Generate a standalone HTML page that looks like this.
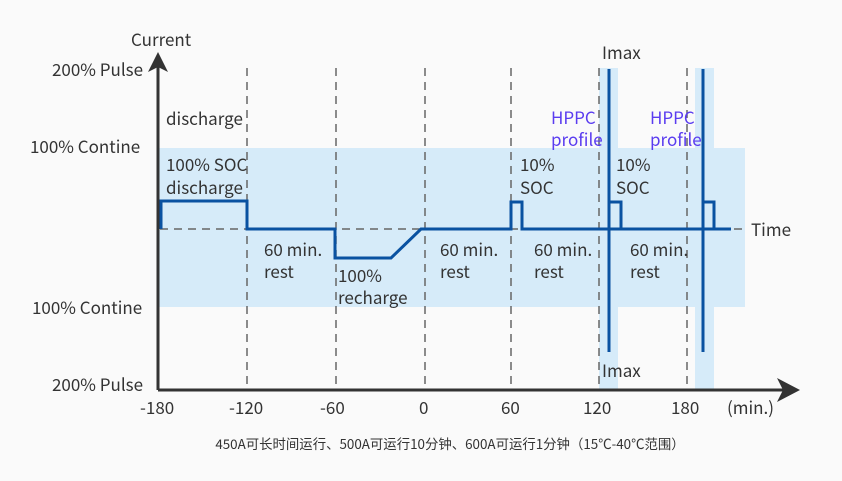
<!DOCTYPE html>
<html><head><meta charset="utf-8"><style>
html,body{margin:0;padding:0;background:#fafafa;}
svg{display:block;font-family:"Noto Sans CJK SC","Liberation Sans",sans-serif;}
</style></head><body>
<svg width="842" height="481" viewBox="0 0 842 481">
<rect width="842" height="481" fill="#fafafa"/>
<rect x="159" y="148" width="586" height="159" fill="#d6ebf9"/>
<rect x="599" y="68" width="19" height="322" fill="#d6ebf9"/>
<rect x="695" y="68" width="19" height="322" fill="#d6ebf9"/>
<g stroke="#666" stroke-width="1.5" stroke-dasharray="8,6">
<line x1="247" y1="68" x2="247" y2="390"/>
<line x1="336" y1="68" x2="336" y2="390"/>
<line x1="425" y1="68" x2="425" y2="390"/>
<line x1="511" y1="68" x2="511" y2="390"/>
<line x1="599" y1="68" x2="599" y2="390"/>
<line x1="687" y1="68" x2="687" y2="390"/>
<line x1="160" y1="229" x2="748" y2="229"/>
</g>
<g stroke="#333" stroke-width="3" fill="#333">
<line x1="158" y1="390" x2="158" y2="62"/>
<line x1="158" y1="390" x2="785" y2="390"/>
</g>
<polygon points="158,52 148,72 158,67 168,72" fill="#333"/>
<polygon points="800,390 777,378 783,390 777,402" fill="#333"/>
<g stroke="#0a52a1" stroke-width="3" fill="none">
<polyline points="161,229 161,201 247,201 247,229 335,229 335,258 391,258 421,229 511,229 511,202 522,202 522,229 731,229"/>
<polyline points="609,229 609,202 621,202 621,229"/>
<polyline points="703,229 703,202 714,202 714,229"/>
<line x1="609" y1="69" x2="609" y2="352"/>
<line x1="703" y1="69" x2="703" y2="352"/>
</g>
<g font-size="17" fill="#333">
<text x="131" y="46">Current</text>
<text x="52" y="76">200% Pulse</text>
<text x="30" y="153">100% Contine</text>
<text x="32" y="314">100% Contine</text>
<text x="52" y="391">200% Pulse</text>
<text x="166" y="125">discharge</text>
<text x="166" y="171">100% SOC</text>
<text x="166" y="194">discharge</text>
<text x="264" y="256">60 min.</text>
<text x="264" y="278">rest</text>
<text x="338" y="282">100%</text>
<text x="338" y="304">recharge</text>
<text x="440" y="256">60 min.</text>
<text x="440" y="278">rest</text>
<text x="534" y="256">60 min.</text>
<text x="534" y="278">rest</text>
<text x="630" y="256">60 min.</text>
<text x="630" y="278">rest</text>
<text x="520" y="171">10%</text>
<text x="520" y="194">SOC</text>
<text x="616" y="171">10%</text>
<text x="616" y="194">SOC</text>
<text x="602" y="59">Imax</text>
<text x="602" y="377">Imax</text>
<text x="751" y="236">Time</text>
<text x="140" y="414">-180</text>
<text x="229" y="414">-120</text>
<text x="320" y="414">-60</text>
<text x="419" y="414">0</text>
<text x="501" y="414">60</text>
<text x="583" y="414">120</text>
<text x="671" y="414">180</text>
<text x="727" y="414">(min.)</text>
</g>
<g font-size="17" fill="#5a3cf0">
<text x="551" y="124">HPPC</text>
<text x="551" y="146">profile</text>
<text x="650" y="124">HPPC</text>
<text x="650" y="146">profile</text>
</g>
<text x="450" y="449" font-size="13.4" fill="#333" text-anchor="middle">450A可长时间运行、500A可运行10分钟、600A可运行1分钟（15℃-40℃范围）</text>
</svg>
</body></html>
